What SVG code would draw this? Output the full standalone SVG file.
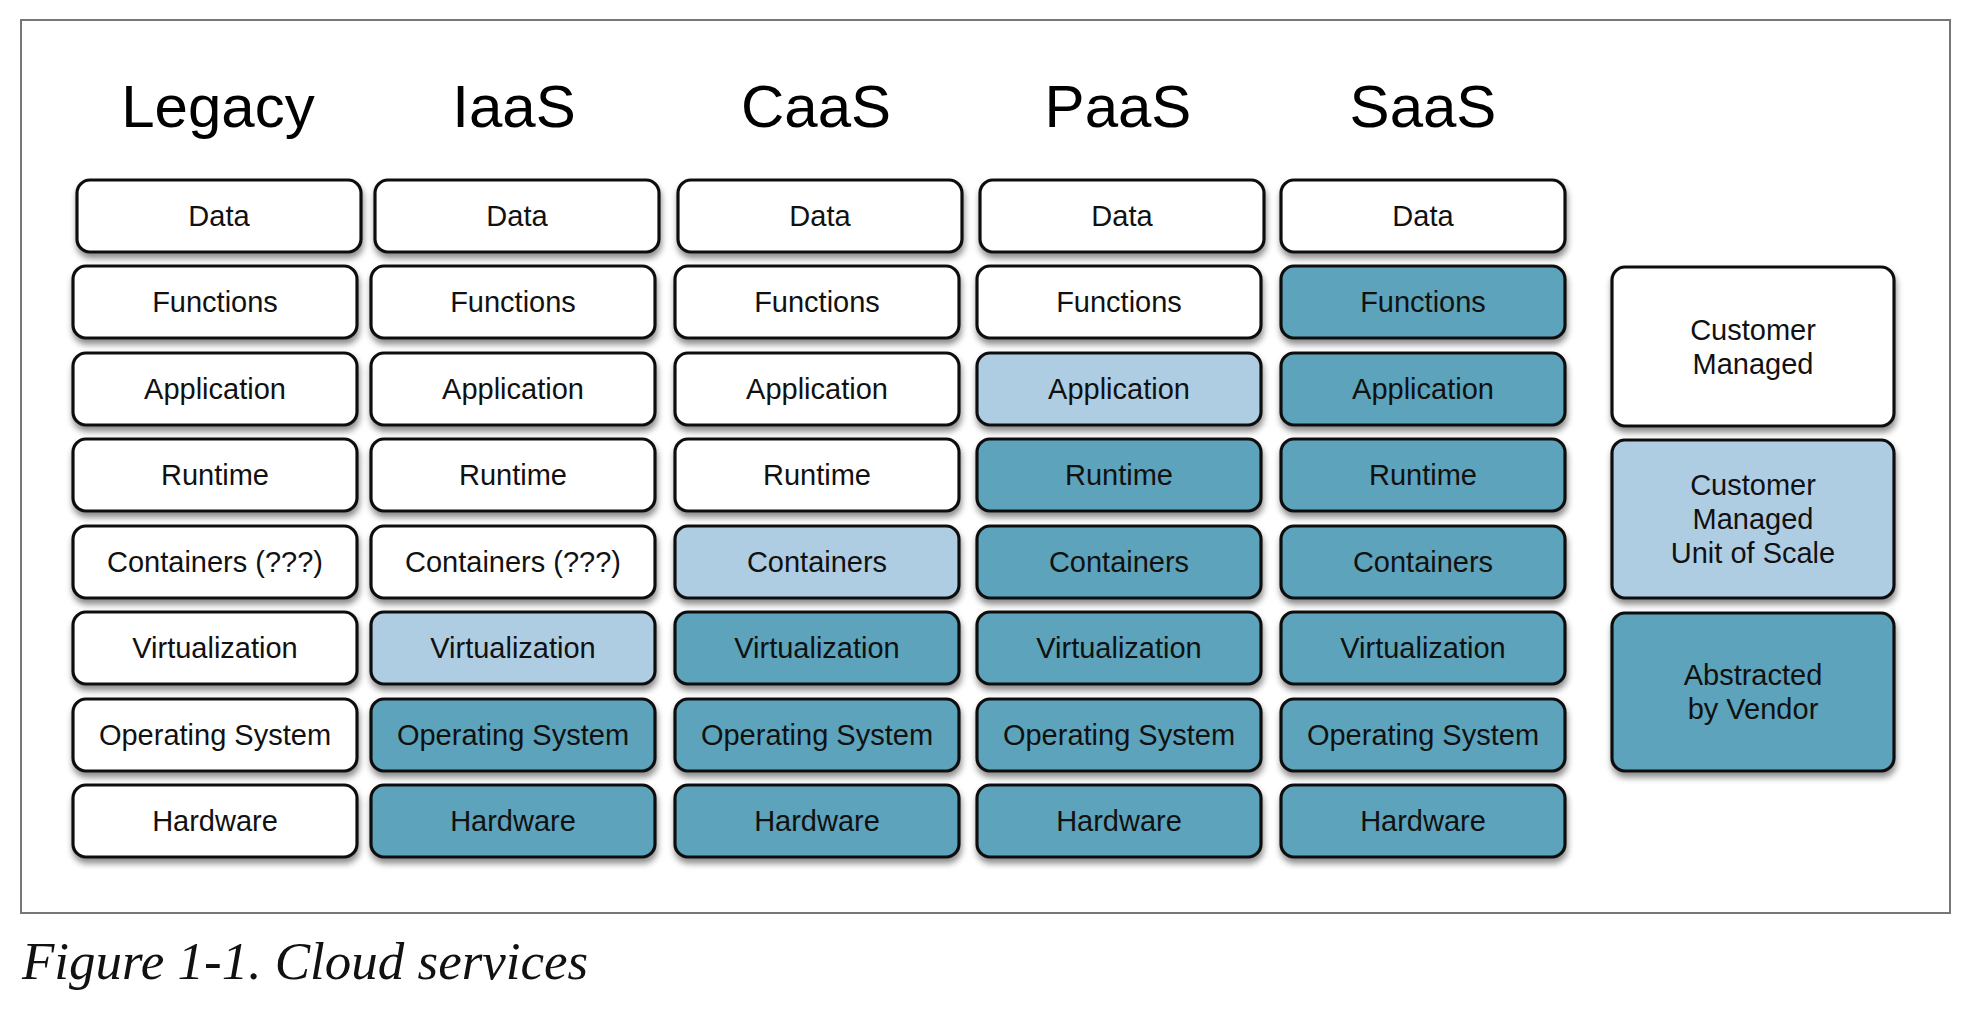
<svg xmlns="http://www.w3.org/2000/svg" width="1966" height="1010" viewBox="0 0 1966 1010">
<defs>
<filter id="sh" x="-10%" y="-20%" width="120%" height="160%">
<feDropShadow dx="1" dy="5" stdDeviation="3" flood-color="#000" flood-opacity="0.45"/>
</filter>
<style>
.b{stroke:#111;stroke-width:3.2;filter:url(#sh)}
.w{fill:#ffffff}
.l{fill:#aecde3}
.d{fill:#5ca3bb}
.t{font-family:"Liberation Sans",Arial,sans-serif;font-size:29px;fill:#111;text-anchor:middle}
.h{font-family:"Liberation Sans",Arial,sans-serif;font-size:60px;fill:#000;text-anchor:middle}
.cap{font-family:"Liberation Serif","Times New Roman",serif;font-style:italic;font-size:53px;fill:#111}
</style>
</defs>
<rect width="1966" height="1010" fill="#fff"/>
<rect x="21" y="20" width="1929" height="893" fill="none" stroke="#777" stroke-width="2"/>

<g id="headers">
<text class="h" x="218" y="127">Legacy</text>
<text class="h" x="514" y="127">IaaS</text>
<text class="h" x="816" y="127">CaaS</text>
<text class="h" x="1118" y="127">PaaS</text>
<text class="h" x="1423" y="127">SaaS</text>
</g>

<g id="legacy">
<g id="legacy-data"><rect class="b w" x="77" y="180" width="284" height="72" rx="13"/><text class="t" x="219" y="226">Data</text></g>
<g id="legacy-functions"><rect class="b w" x="73" y="266" width="284" height="72" rx="13"/><text class="t" x="215" y="312">Functions</text></g>
<g id="legacy-application"><rect class="b w" x="73" y="353" width="284" height="72" rx="13"/><text class="t" x="215" y="399">Application</text></g>
<g id="legacy-runtime"><rect class="b w" x="73" y="439" width="284" height="72" rx="13"/><text class="t" x="215" y="485">Runtime</text></g>
<g id="legacy-containers"><rect class="b w" x="73" y="526" width="284" height="72" rx="13"/><text class="t" x="215" y="572">Containers (???)</text></g>
<g id="legacy-virtualization"><rect class="b w" x="73" y="612" width="284" height="72" rx="13"/><text class="t" x="215" y="658">Virtualization</text></g>
<g id="legacy-os"><rect class="b w" x="73" y="699" width="284" height="72" rx="13"/><text class="t" x="215" y="745">Operating System</text></g>
<g id="legacy-hardware"><rect class="b w" x="73" y="785" width="284" height="72" rx="13"/><text class="t" x="215" y="831">Hardware</text></g>
</g>

<g id="iaas">
<g id="iaas-data"><rect class="b w" x="375" y="180" width="284" height="72" rx="13"/><text class="t" x="517" y="226">Data</text></g>
<g id="iaas-functions"><rect class="b w" x="371" y="266" width="284" height="72" rx="13"/><text class="t" x="513" y="312">Functions</text></g>
<g id="iaas-application"><rect class="b w" x="371" y="353" width="284" height="72" rx="13"/><text class="t" x="513" y="399">Application</text></g>
<g id="iaas-runtime"><rect class="b w" x="371" y="439" width="284" height="72" rx="13"/><text class="t" x="513" y="485">Runtime</text></g>
<g id="iaas-containers"><rect class="b w" x="371" y="526" width="284" height="72" rx="13"/><text class="t" x="513" y="572">Containers (???)</text></g>
<g id="iaas-virtualization"><rect class="b l" x="371" y="612" width="284" height="72" rx="13"/><text class="t" x="513" y="658">Virtualization</text></g>
<g id="iaas-os"><rect class="b d" x="371" y="699" width="284" height="72" rx="13"/><text class="t" x="513" y="745">Operating System</text></g>
<g id="iaas-hardware"><rect class="b d" x="371" y="785" width="284" height="72" rx="13"/><text class="t" x="513" y="831">Hardware</text></g>
</g>

<g id="caas">
<g id="caas-data"><rect class="b w" x="678" y="180" width="284" height="72" rx="13"/><text class="t" x="820" y="226">Data</text></g>
<g id="caas-functions"><rect class="b w" x="675" y="266" width="284" height="72" rx="13"/><text class="t" x="817" y="312">Functions</text></g>
<g id="caas-application"><rect class="b w" x="675" y="353" width="284" height="72" rx="13"/><text class="t" x="817" y="399">Application</text></g>
<g id="caas-runtime"><rect class="b w" x="675" y="439" width="284" height="72" rx="13"/><text class="t" x="817" y="485">Runtime</text></g>
<g id="caas-containers"><rect class="b l" x="675" y="526" width="284" height="72" rx="13"/><text class="t" x="817" y="572">Containers</text></g>
<g id="caas-virtualization"><rect class="b d" x="675" y="612" width="284" height="72" rx="13"/><text class="t" x="817" y="658">Virtualization</text></g>
<g id="caas-os"><rect class="b d" x="675" y="699" width="284" height="72" rx="13"/><text class="t" x="817" y="745">Operating System</text></g>
<g id="caas-hardware"><rect class="b d" x="675" y="785" width="284" height="72" rx="13"/><text class="t" x="817" y="831">Hardware</text></g>
</g>

<g id="paas">
<g id="paas-data"><rect class="b w" x="980" y="180" width="284" height="72" rx="13"/><text class="t" x="1122" y="226">Data</text></g>
<g id="paas-functions"><rect class="b w" x="977" y="266" width="284" height="72" rx="13"/><text class="t" x="1119" y="312">Functions</text></g>
<g id="paas-application"><rect class="b l" x="977" y="353" width="284" height="72" rx="13"/><text class="t" x="1119" y="399">Application</text></g>
<g id="paas-runtime"><rect class="b d" x="977" y="439" width="284" height="72" rx="13"/><text class="t" x="1119" y="485">Runtime</text></g>
<g id="paas-containers"><rect class="b d" x="977" y="526" width="284" height="72" rx="13"/><text class="t" x="1119" y="572">Containers</text></g>
<g id="paas-virtualization"><rect class="b d" x="977" y="612" width="284" height="72" rx="13"/><text class="t" x="1119" y="658">Virtualization</text></g>
<g id="paas-os"><rect class="b d" x="977" y="699" width="284" height="72" rx="13"/><text class="t" x="1119" y="745">Operating System</text></g>
<g id="paas-hardware"><rect class="b d" x="977" y="785" width="284" height="72" rx="13"/><text class="t" x="1119" y="831">Hardware</text></g>
</g>

<g id="saas">
<g id="saas-data"><rect class="b w" x="1281" y="180" width="284" height="72" rx="13"/><text class="t" x="1423" y="226">Data</text></g>
<g id="saas-functions"><rect class="b d" x="1281" y="266" width="284" height="72" rx="13"/><text class="t" x="1423" y="312">Functions</text></g>
<g id="saas-application"><rect class="b d" x="1281" y="353" width="284" height="72" rx="13"/><text class="t" x="1423" y="399">Application</text></g>
<g id="saas-runtime"><rect class="b d" x="1281" y="439" width="284" height="72" rx="13"/><text class="t" x="1423" y="485">Runtime</text></g>
<g id="saas-containers"><rect class="b d" x="1281" y="526" width="284" height="72" rx="13"/><text class="t" x="1423" y="572">Containers</text></g>
<g id="saas-virtualization"><rect class="b d" x="1281" y="612" width="284" height="72" rx="13"/><text class="t" x="1423" y="658">Virtualization</text></g>
<g id="saas-os"><rect class="b d" x="1281" y="699" width="284" height="72" rx="13"/><text class="t" x="1423" y="745">Operating System</text></g>
<g id="saas-hardware"><rect class="b d" x="1281" y="785" width="284" height="72" rx="13"/><text class="t" x="1423" y="831">Hardware</text></g>
</g>

<g id="legend">
<g id="legend-customer"><rect class="b w" x="1612" y="267" width="282" height="159" rx="13"/><text class="t" x="1753" y="340">Customer</text><text class="t" x="1753" y="374">Managed</text></g>
<g id="legend-unit"><rect class="b l" x="1612" y="440" width="282" height="158" rx="13"/><text class="t" x="1753" y="495">Customer</text><text class="t" x="1753" y="529">Managed</text><text class="t" x="1753" y="563">Unit of Scale</text></g>
<g id="legend-vendor"><rect class="b d" x="1612" y="613" width="282" height="158" rx="13"/><text class="t" x="1753" y="685">Abstracted</text><text class="t" x="1753" y="719">by Vendor</text></g>
</g>

<g id="connectors"></g>

<text class="cap" x="22" y="979">Figure 1-1. Cloud services</text>
</svg>
